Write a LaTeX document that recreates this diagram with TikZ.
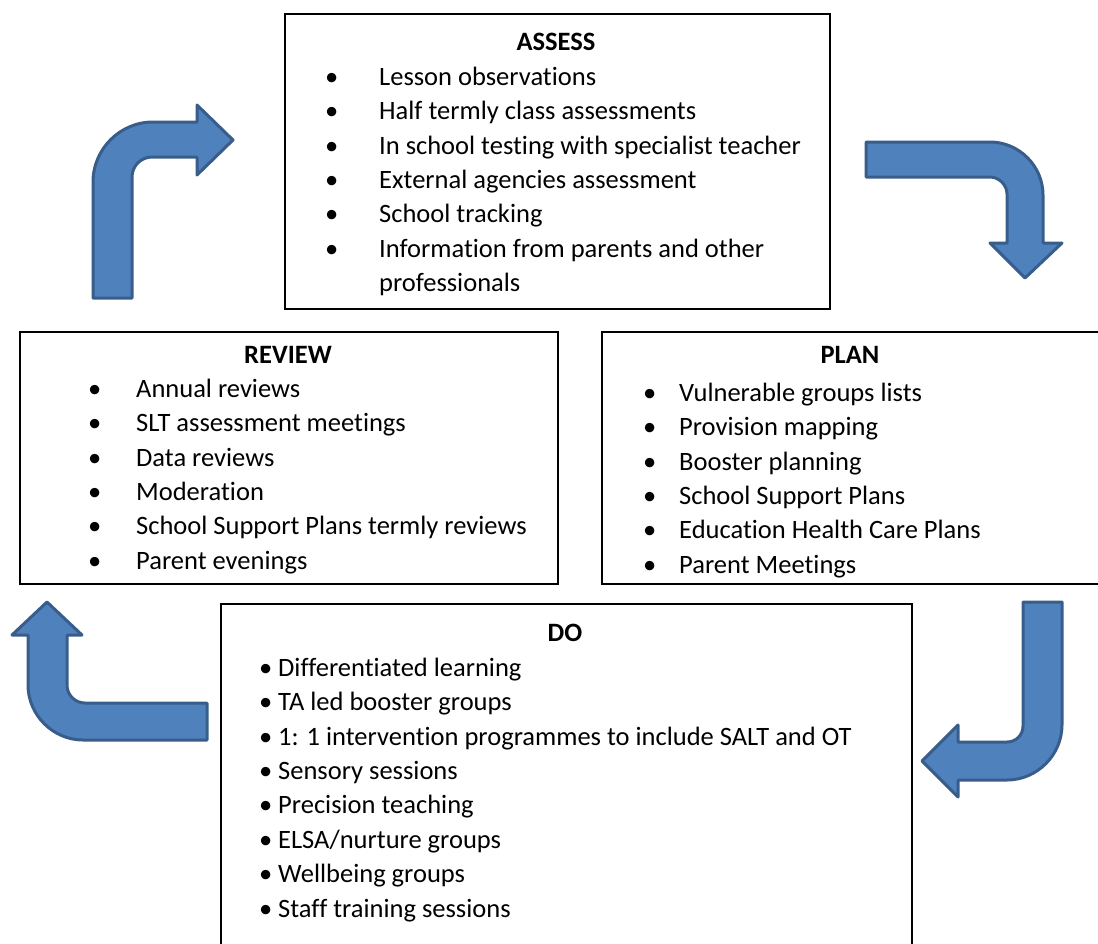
\documentclass[tikz,border=0pt]{standalone}
\usepackage{fontspec}
\setmainfont{Carlito}[Ligatures=NoCommon]
\usepackage{tikz}
\usetikzlibrary{positioning}
\definecolor{cycFill}{HTML}{4F81BD}
\definecolor{cycLine}{HTML}{385D8A}
\newcommand{\itembullet}[1]{\llap{\makebox[#1][l]{\textbullet}}}
\tikzset{
  stagebox/.style={draw=black, line width=1.5pt, anchor=north west, inner sep=0pt},
  stagetitle/.style={
    font=\fontsize{26.5}{34}\selectfont\bfseries, inner sep=0pt,
    text height=22pt, text depth=12pt, anchor=north
  },
  item/.style={
    font=\fontsize{26.5}{34}\selectfont, inner sep=0pt,
    text height=22pt, text depth=12pt, anchor=north west
  },
  cyclearrow/.style={fill=cycFill, draw=cycLine, line width=3pt, line join=round}
}

\begin{document}
\begin{tikzpicture}[x=1pt, y=-1pt]
  \useasboundingbox (0,0) rectangle (1098,943);
  \clip (0,0) rectangle (1098,943);

  % stage boxes
  \node[stagebox, minimum width=545pt, minimum height=295pt] (assessbox) at (284,13) {};
  \node[stagebox, minimum width=538pt, minimum height=252pt] (reviewbox) at (19,331) {};
  \node[stagebox, minimum width=505pt, minimum height=252pt] (planbox) at (601,331) {};
  \node[stagebox, minimum width=691pt, minimum height=350pt] (dobox) at (220,603) {};

  % ASSESS
  \node[stagetitle] (assesstitle) at (556,28) {ASSESS};
  \node[item] (as1) at (379,63) {\itembullet{54pt}Lesson observations};
  \node[item] (as2) at (as1.south west) {\itembullet{54pt}Half termly class assessments};
  \node[item] (as3) at (as2.south west) {\itembullet{54pt}In school testing with specialist teacher};
  \node[item] (as4) at (as3.south west) {\itembullet{54pt}External agencies assessment};
  \node[item] (as5) at (as4.south west) {\itembullet{54pt}School tracking};
  \node[item] (as6) at (as5.south west) {\itembullet{54pt}Information from parents and other};
  \node[item] (as7) at (as6.south west) {professionals};

  % REVIEW
  \node[stagetitle] (reviewtitle) at (288,341) {REVIEW};
  \node[item] (rv1) at (136,375) {\itembullet{48pt}Annual reviews};
  \node[item] (rv2) at (rv1.south west) {\itembullet{48pt}SLT assessment meetings};
  \node[item] (rv3) at (rv2.south west) {\itembullet{48pt}Data reviews};
  \node[item] (rv4) at (rv3.south west) {\itembullet{48pt}Moderation};
  \node[item] (rv5) at (rv4.south west) {\itembullet{48pt}School Support Plans termly reviews};
  \node[item] (rv6) at (rv5.south west) {\itembullet{48pt}Parent evenings};

  % PLAN (last line runs under the frame)
  \begin{scope}
    \clip (601,331) rectangle (1098,582);
    \node[stagetitle] (plantitle) at (850,341) {PLAN};
    \node[item] (pl1) at (679,379) {\itembullet{36pt}Vulnerable groups lists};
    \node[item] (pl2) at (pl1.south west) {\itembullet{36pt}Provision mapping};
    \node[item] (pl3) at (pl2.south west) {\itembullet{36pt}Booster planning};
    \node[item] (pl4) at (pl3.south west) {\itembullet{36pt}School Support Plans};
    \node[item] (pl5) at (pl4.south west) {\itembullet{36pt}Education Health Care Plans};
    \node[item] (pl6) at (pl5.south west) {\itembullet{36pt}Parent Meetings};
  \end{scope}

  % DO
  \node[stagetitle] (dotitle) at (565,619) {DO};
  \node[item] (do1) at (278,654) {\itembullet{19pt}Differentiated learning};
  \node[item] (do2) at (do1.south west) {\itembullet{19pt}TA led booster groups};
  \node[item] (do3) at (do2.south west) {\itembullet{19pt}1: 1 intervention programmes to include SALT and OT};
  \node[item] (do4) at (do3.south west) {\itembullet{19pt}Sensory sessions};
  \node[item] (do5) at (do4.south west) {\itembullet{19pt}Precision teaching};
  \node[item] (do6) at (do5.south west) {\itembullet{19pt}ELSA/nurture groups};
  \node[item] (do7) at (do6.south west) {\itembullet{19pt}Wellbeing groups};
  \node[item] (do8) at (do7.south west) {\itembullet{19pt}Staff training sessions};

  % bent block arrows round the cycle
  \draw[cyclearrow] (93,298) -- (93,182) .. controls (93,149) and (120,122) .. (153,122)
    -- (197,122) -- (197,105) -- (233,140) -- (197,175) -- (197,157) -- (152,157)
    .. controls (141,157) and (132,166) .. (132,177) -- (132,298) -- cycle;
  \draw[cyclearrow] (866,142) -- (990,142) .. controls (1019,142) and (1043,166) .. (1043,195)
    -- (1043,243) -- (1062,243) -- (1025,278) -- (990,243) -- (1007,243) -- (1007,194)
    .. controls (1007,185) and (999,177) .. (990,177) -- (866,177) -- cycle;
  \draw[cyclearrow] (1023,602) -- (1062,602) -- (1062,725) .. controls (1062,755) and (1037,780) .. (1007,780)
    -- (958,780) -- (958,797) -- (922,761) -- (958,725) -- (958,742) -- (1007,742)
    .. controls (1016,742) and (1023,735) .. (1023,726) -- cycle;
  \draw[cyclearrow] (207,703) -- (207,740) -- (83,740) .. controls (53,740) and (28,715) .. (28,685)
    -- (28,635) -- (12,635) -- (47,602) -- (82,635) -- (67,635) -- (67,685)
    .. controls (67,695) and (75,703) .. (85,703) -- cycle;
\end{tikzpicture}
\end{document}
